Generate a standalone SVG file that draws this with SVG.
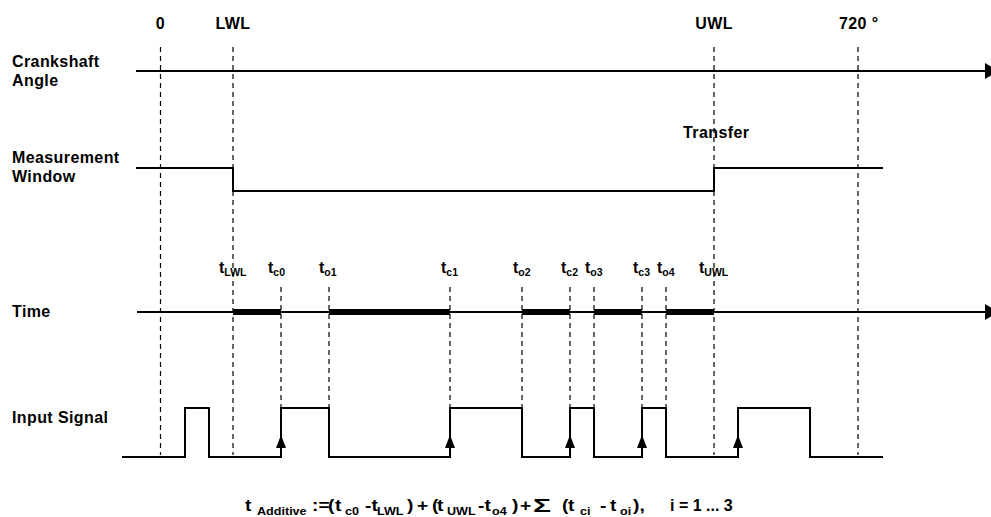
<svg xmlns="http://www.w3.org/2000/svg" width="991" height="517" viewBox="0 0 991 517">
<style>
  text { font-family: "Liberation Sans", Arial, sans-serif; font-weight: bold; fill: #000; }
  .lbl { font-size: 16px; letter-spacing: 0.4px; }
  .t { font-size: 16px; }
  .sub { font-size: 10.5px; }
  .sig { fill: none; stroke: #000; stroke-width: 2; }
  .dash { fill: none; stroke: #000; stroke-width: 1.2; stroke-dasharray: 5 4; }
  .thick { stroke: #000; stroke-width: 6; }
  .f { font-size: 16px; }
  .fs { font-size: 10.5px; }
  .sum { font-size: 19px; }
</style>
<defs>
  <marker id="axisArrow" markerUnits="userSpaceOnUse" markerWidth="16" markerHeight="16" refX="0" refY="8" orient="auto">
    <path d="M0,0 L14,8 L0,16 Z" fill="#000"/>
  </marker>
  <marker id="edgeArrow" markerUnits="userSpaceOnUse" markerWidth="12" markerHeight="14" refX="6" refY="0" orient="0">
    <path d="M6,0 L11,13 L1,13 Z" fill="#000"/>
  </marker>
</defs>

<rect width="991" height="517" fill="#fff"/>

<g id="row-labels">
  <text class="lbl" x="12" y="67">Crankshaft</text>
  <text class="lbl" x="12" y="86">Angle</text>
  <text class="lbl" x="12" y="163">Measurement</text>
  <text class="lbl" x="12" y="182">Window</text>
  <text class="lbl" x="12" y="317">Time</text>
  <text class="lbl" x="12" y="423">Input Signal</text>
</g>

<g id="angle-labels">
  <text class="lbl" x="160.5" y="29" text-anchor="middle">0</text>
  <text class="lbl" x="233" y="29" text-anchor="middle">LWL</text>
  <text class="lbl" x="714" y="29" text-anchor="middle">UWL</text>
  <text class="lbl" x="839" y="29">720 °</text>
  <text class="lbl" x="683" y="138">Transfer</text>
</g>

<g id="connectors">
  <line class="dash" x1="160.5" y1="47" x2="160.5" y2="455"/>
  <line class="dash" x1="233" y1="47" x2="233" y2="455"/>
  <line class="dash" x1="714" y1="47" x2="714" y2="455"/>
  <line class="dash" x1="858" y1="47" x2="858" y2="455"/>
  <line class="dash" x1="281" y1="287" x2="281" y2="408"/>
  <line class="dash" x1="329" y1="287" x2="329" y2="408"/>
  <line class="dash" x1="450" y1="287" x2="450" y2="408"/>
  <line class="dash" x1="522" y1="287" x2="522" y2="408"/>
  <line class="dash" x1="570" y1="287" x2="570" y2="408"/>
  <line class="dash" x1="594" y1="287" x2="594" y2="408"/>
  <line class="dash" x1="642" y1="287" x2="642" y2="408"/>
  <line class="dash" x1="666" y1="287" x2="666" y2="408"/>
</g>

<g id="crankshaft-axis">
  <line class="sig" x1="136" y1="71" x2="985" y2="71" marker-end="url(#axisArrow)"/>
</g>

<g id="measurement-window">
  <polyline class="sig" points="136,168 233,168 233,191 714,191 714,168 883,168"/>
</g>

<g id="time-axis">
  <line class="sig" x1="137" y1="312" x2="985" y2="312" marker-end="url(#axisArrow)"/>
  <line class="thick" x1="233" y1="312" x2="281" y2="312"/>
  <line class="thick" x1="329" y1="312" x2="450" y2="312"/>
  <line class="thick" x1="522" y1="312" x2="570" y2="312"/>
  <line class="thick" x1="594" y1="312" x2="642" y2="312"/>
  <line class="thick" x1="666" y1="312" x2="714" y2="312"/>
</g>

<g id="time-labels">
  <text class="t" x="219" y="273">t<tspan class="sub" dy="3">LWL</tspan></text>
  <text class="t" x="268" y="273">t<tspan class="sub" dy="3">c0</tspan></text>
  <text class="t" x="319" y="273">t<tspan class="sub" dy="3">o1</tspan></text>
  <text class="t" x="441" y="273">t<tspan class="sub" dy="3">c1</tspan></text>
  <text class="t" x="513" y="273">t<tspan class="sub" dy="3">o2</tspan></text>
  <text class="t" x="561" y="273">t<tspan class="sub" dy="3">c2</tspan></text>
  <text class="t" x="585" y="273">t<tspan class="sub" dy="3">o3</tspan></text>
  <text class="t" x="633" y="273">t<tspan class="sub" dy="3">c3</tspan></text>
  <text class="t" x="657" y="273">t<tspan class="sub" dy="3">o4</tspan></text>
  <text class="t" x="699" y="273">t<tspan class="sub" dy="3">UWL</tspan></text>
</g>

<g id="input-signal">
  <polyline class="sig" points="122,457 185,457 185,408 209,408 209,457 281,457 281,408 329,408 329,457 450,457 450,408 522,408 522,457 570,457 570,408 594,408 594,457 642,457 642,408 666,408 666,457 738,457 738,408 810,408 810,457 883,457"/>
  <line x1="281" y1="435" x2="281" y2="448" stroke="none" marker-start="url(#edgeArrow)"/>
  <line x1="450" y1="435" x2="450" y2="448" stroke="none" marker-start="url(#edgeArrow)"/>
  <line x1="570" y1="435" x2="570" y2="448" stroke="none" marker-start="url(#edgeArrow)"/>
  <line x1="642" y1="435" x2="642" y2="448" stroke="none" marker-start="url(#edgeArrow)"/>
  <line x1="738" y1="435" x2="738" y2="448" stroke="none" marker-start="url(#edgeArrow)"/>
</g>

<g id="formula">
  <text class="f" transform="scale(1.2,1)"><tspan x="204.17" y="511">t</tspan><tspan class="fs" x="214.17" y="515">Additive</tspan><tspan x="260" y="511">:=</tspan><tspan x="273.33" y="511">(</tspan><tspan x="279.17" y="511">t</tspan><tspan class="fs" x="287.5" y="515">c0</tspan><tspan x="304.17" y="511">-t</tspan><tspan class="fs" x="314.17" y="515">LWL</tspan><tspan x="339.17" y="511">)</tspan><tspan x="347.5" y="511">+</tspan><tspan x="360" y="511">(</tspan><tspan x="364.17" y="511">t</tspan><tspan class="fs" x="372.5" y="515">UWL</tspan><tspan x="398.33" y="511">-t</tspan><tspan class="fs" x="410" y="515">o4</tspan><tspan x="426.67" y="511">)</tspan><tspan x="433.33" y="511">+</tspan><tspan x="468.33" y="511">(</tspan><tspan x="473.33" y="511">t</tspan><tspan class="fs" x="483.33" y="515">ci</tspan><tspan x="500" y="511">-</tspan><tspan x="508.33" y="511">t</tspan><tspan class="fs" x="516.67" y="515">oi</tspan><tspan x="527.5" y="511">),</tspan></text>
  <text class="sum" x="533" y="512" textLength="18" lengthAdjust="spacingAndGlyphs">Σ</text>
  <text class="f" x="670" y="511">i = 1 ... 3</text>
</g>
</svg>
